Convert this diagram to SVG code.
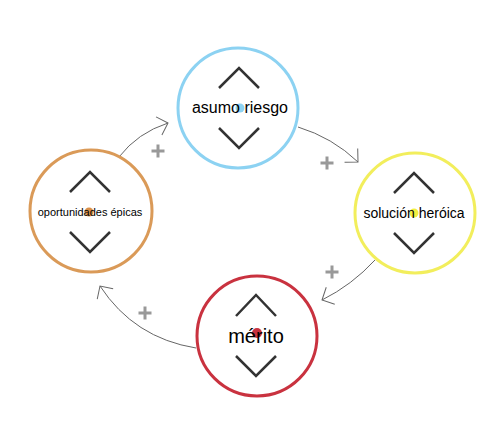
<svg xmlns="http://www.w3.org/2000/svg" width="494" height="448" viewBox="0 0 494 448">
<style>
.ring{fill:#fff;stroke-width:3}
.chev{fill:none;stroke:#333;stroke-width:2.5}
.lbl{font-family:"Liberation Sans",Arial,sans-serif;fill:#000;text-anchor:middle}
.conn{fill:none;stroke:#666;stroke-width:1;marker-end:url(#arr)}
.plus{stroke:#999;stroke-width:3;fill:none}
</style>
<defs>
<marker id="arr" markerUnits="userSpaceOnUse" viewBox="-11 -11 13 22" refX="0" refY="0" markerWidth="13" markerHeight="22" orient="auto">
<path d="M-9.5,-9.5 L0,0 L-9.5,9.5" fill="none" stroke="#666" stroke-width="1"/>
</marker>
</defs>
<rect width="494" height="448" fill="#fff"/>
<g id="connectors">
<path class="conn" d="M119,157 Q137.6,132.9 168,123"/>
<path class="conn" d="M298,127 Q332.4,137.5 358,162"/>
<path class="conn" d="M375,260 Q352,285 322,300"/>
<path class="conn" d="M196,348 Q134,338 100,286"/>
<path class="plus" d="M151.5,151h13M158,144.5v13"/>
<path class="plus" d="M320.5,163h13M327,156.5v13"/>
<path class="plus" d="M325.5,272h13M332,265.5v13"/>
<path class="plus" d="M138.5,313h13M145,306.5v13"/>
</g>
<g id="asumo-riesgo">
<circle class="ring" cx="238" cy="108" r="60" stroke="#8cd2f2"/>
<path class="chev" d="M219,88 L239,68 L259,88"/>
<path class="chev" d="M219,128 L239,148 L259,128"/>
<circle cx="240" cy="108" r="4.5" fill="#8cd2f2"/>
<text class="lbl" x="240" y="113" font-size="16">asumo riesgo</text>
</g>
<g id="solucion-heroica">
<circle class="ring" cx="415" cy="213" r="60" stroke="#f2ee5c"/>
<path class="chev" d="M394,193 L414,173 L434,193"/>
<path class="chev" d="M394,233 L414,253 L434,233"/>
<circle cx="414" cy="213" r="4.5" fill="#f2ee40"/>
<text class="lbl" x="414" y="218" font-size="14">solución heróica</text>
</g>
<g id="merito">
<circle class="ring" cx="257" cy="336" r="60" stroke="#c9323f"/>
<path class="chev" d="M236,316 L256,295 L276,316"/>
<path class="chev" d="M236,356 L256,376 L276,356"/>
<circle cx="257" cy="333" r="5" fill="#c9323f"/>
<text class="lbl" x="256" y="343" font-size="20">mérito</text>
</g>
<g id="oportunidades-epicas">
<circle class="ring" cx="91" cy="211" r="61" stroke="#da9a58"/>
<path class="chev" d="M70,192 L90,172 L110,192"/>
<path class="chev" d="M70,232 L90,252 L110,232"/>
<circle cx="89" cy="212" r="4.5" fill="#d98f48"/>
<text class="lbl" x="90" y="216" font-size="11">oportunidades épicas</text>
</g>
</svg>
